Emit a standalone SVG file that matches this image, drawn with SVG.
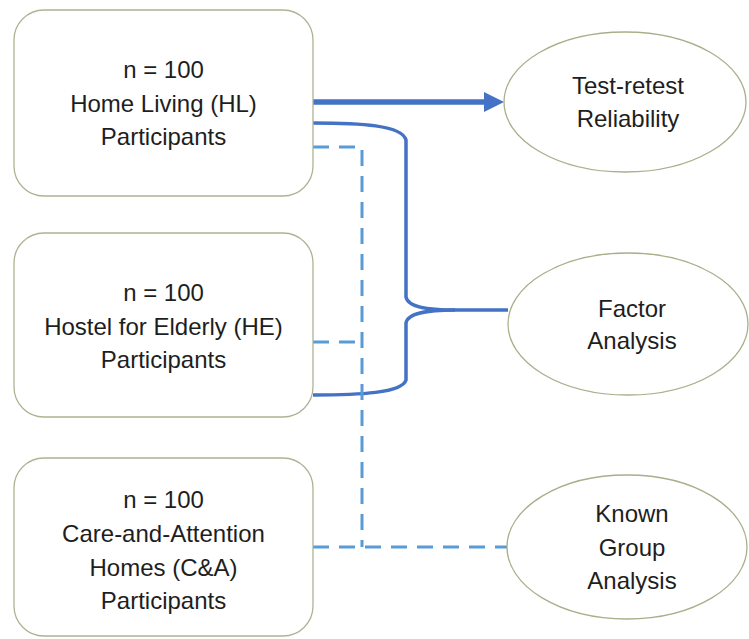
<svg xmlns="http://www.w3.org/2000/svg" width="749" height="639" viewBox="0 0 749 639">
<style>
.box{fill:#fff;stroke:#AEB394;stroke-width:1.3}
.ell{fill:#fff;stroke:#A6B08A;stroke-width:1.3}
.t{font-family:"Liberation Sans",Arial,sans-serif;font-size:24px;fill:#1e1e1e;text-anchor:middle}
.solid{fill:none;stroke:#4472C4;stroke-width:3.5}
.thick{fill:none;stroke:#4472C4;stroke-width:5.5}
.dash{fill:none;stroke:#5B9BD5;stroke-width:3;stroke-dasharray:16 10}
</style>
<rect width="749" height="639" fill="#fff"/>
<g id="connectors">
<line class="thick" x1="313" y1="102" x2="484" y2="102"/>
<path d="M484,92 L504,102 L484,112 Z" fill="#4472C4"/>
<path class="solid" d="M313,123 C360,123 402,125 406,140 L406,297 C408,308 430,310 455,310 L508,310"/>
<path class="solid" d="M313,395 C360,395 402,393 406,380 L406,323 C408,312 430,310 455,310"/>
<path class="dash" d="M313,147 L362,147 L362,547"/>
<path class="dash" d="M313,342 L362,342"/>
<path class="dash" d="M313,547 L507,547"/>
</g>
<g id="hl">
<rect class="box" x="14" y="10" width="299" height="186" rx="30"/>
<text class="t" x="163.5" y="78">n = 100</text>
<text class="t" x="163.5" y="112">Home Living (HL)</text>
<text class="t" x="163.5" y="145">Participants</text>
</g>
<g id="he">
<rect class="box" x="14" y="233" width="299" height="184" rx="30"/>
<text class="t" x="163.5" y="301">n = 100</text>
<text class="t" x="163.5" y="335">Hostel for Elderly (HE)</text>
<text class="t" x="163.5" y="368">Participants</text>
</g>
<g id="ca">
<rect class="box" x="14" y="458" width="299" height="178" rx="30"/>
<text class="t" x="163.5" y="508">n = 100</text>
<text class="t" x="163.5" y="542">Care-and-Attention</text>
<text class="t" x="163.5" y="576">Homes (C&amp;A)</text>
<text class="t" x="163.5" y="609">Participants</text>
</g>
<g id="trr">
<ellipse class="ell" cx="625" cy="102" rx="121" ry="70"/>
<text class="t" x="628" y="94">Test-retest</text>
<text class="t" x="628" y="127">Reliability</text>
</g>
<g id="fa">
<ellipse class="ell" cx="628" cy="324" rx="120" ry="71"/>
<text class="t" x="632" y="317">Factor</text>
<text class="t" x="632" y="349">Analysis</text>
</g>
<g id="kga">
<ellipse class="ell" cx="627" cy="547" rx="120" ry="72"/>
<text class="t" x="632" y="522">Known</text>
<text class="t" x="632" y="556">Group</text>
<text class="t" x="632" y="589">Analysis</text>
</g>
</svg>
